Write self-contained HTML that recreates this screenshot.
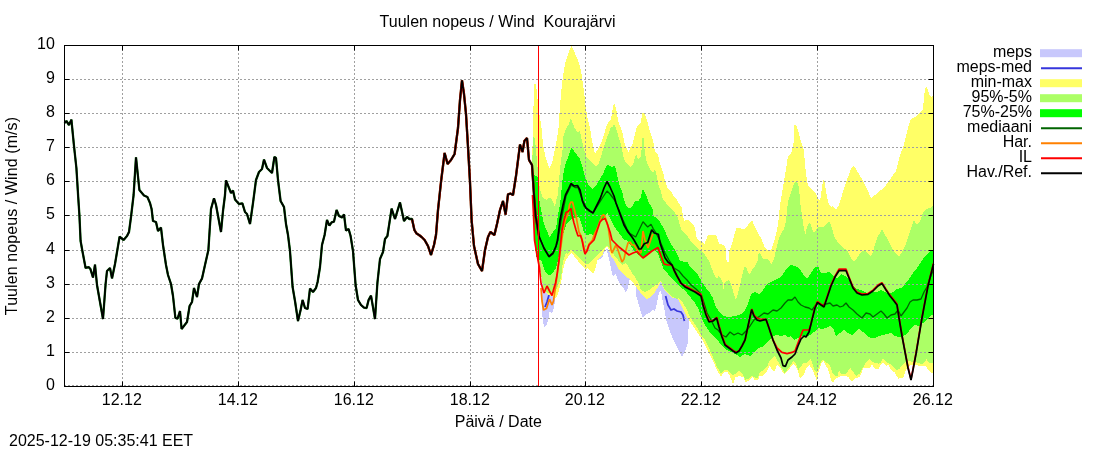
<!DOCTYPE html>
<html lang="fi"><head><meta charset="utf-8"><title>Tuulen nopeus / Wind Kourajärvi</title>
<style>html,body{margin:0;padding:0;background:#fff;width:1100px;height:450px;overflow:hidden}</style></head>
<body>
<svg width="1100" height="450" viewBox="0 0 1100 450" style="position:absolute;left:0;top:0;will-change:transform">
<rect x="0" y="0" width="1100" height="450" fill="#ffffff"/>
<defs><clipPath id="plotclip"><rect x="64" y="45" width="870" height="342"/></clipPath></defs>
<g clip-path="url(#plotclip)"><polygon points="541.5,283.0 542.0,311.0 543.0,323.0 544.5,327.0 546.0,326.0 548.0,321.0 549.5,312.0 552.0,313.0 553.5,309.0 555.0,301.0 556.0,296.0 556.0,283.0" fill="#c8c8fc" shape-rendering="crispEdges"/><polygon points="598.0,245.0 598.0,260.0 602.0,258.0 604.0,253.0 606.0,248.0 608.0,255.0 610.0,263.0 612.0,273.0 613.0,276.5 616.0,274.0 618.0,280.0 620.0,284.0 621.0,286.0 624.0,289.0 626.0,292.5 628.0,288.0 629.0,282.0 630.0,279.0 633.0,280.0 636.0,284.0 636.5,297.0 640.0,309.0 643.0,318.0 646.0,314.0 649.0,313.0 652.0,310.0 655.0,311.0 657.0,303.0 659.0,292.0 661.0,290.0 662.0,297.0 664.0,307.0 666.0,319.0 669.0,329.0 673.0,339.0 677.0,347.0 680.0,353.0 682.0,357.0 684.0,353.0 686.0,349.0 688.0,343.0 688.6,327.0 689.0,317.0 689.0,300.0 660.0,270.0 630.0,260.0" fill="#c8c8fc" shape-rendering="crispEdges"/><polyline points="549.0,295.0 547.0,302.0 545.0,307.0" fill="none" stroke="#3636dc" stroke-width="1.8"/><polyline points="665.6,296.0 668.0,305.0 671.0,310.0 674.0,309.0 677.0,311.0 681.0,312.0 683.0,315.0 684.4,321.0" fill="none" stroke="#3636dc" stroke-width="1.8"/><polygon points="532.0,165.0 533.2,120.0 534.0,84.0 535.9,84.0 536.5,88.7 537.3,97.0 539.3,113.7 540.7,121.7 541.6,128.3 543.0,145.0 546.0,159.0 549.5,168.5 552.0,163.0 555.0,149.0 557.0,139.0 558.6,127.0 560.0,106.0 561.4,90.0 563.0,76.0 565.0,64.0 568.0,54.0 571.4,45.5 574.0,51.0 577.4,59.0 580.0,66.0 582.0,77.0 584.0,92.0 585.6,106.0 587.4,118.0 590.0,128.0 592.0,141.0 595.0,154.0 598.0,149.0 602.0,141.0 605.0,131.0 606.6,126.0 607.4,124.0 611.0,119.0 613.0,107.0 614.0,103.0 616.0,108.0 617.4,116.0 619.0,124.0 621.0,128.0 623.0,135.0 625.0,145.0 627.0,149.0 628.5,152.0 630.0,149.0 631.0,146.0 632.0,146.0 634.7,135.0 636.6,127.4 641.0,122.4 642.2,112.5 644.0,112.5 646.5,118.7 649.6,130.0 653.4,142.3 654.6,149.8 656.0,153.0 658.0,155.0 660.0,164.0 663.0,172.0 665.0,181.0 668.0,189.0 671.0,191.0 674.0,197.0 677.0,200.0 680.0,205.0 682.0,208.0 683.0,217.0 684.5,220.5 688.0,220.0 691.0,222.5 694.0,225.0 695.5,231.0 696.5,237.0 699.0,241.0 702.0,242.0 704.5,244.0 706.0,240.0 708.0,234.5 712.0,234.5 716.0,235.0 718.0,240.0 719.0,244.0 722.0,244.5 724.0,245.0 725.5,248.0 726.0,258.0 727.0,262.0 729.0,262.0 729.5,250.0 731.0,247.0 733.0,240.0 735.0,232.0 736.6,228.0 745.0,229.0 748.0,225.0 752.0,220.0 755.0,227.0 758.0,233.0 761.0,238.0 765.0,248.0 769.0,252.0 772.0,248.0 775.0,238.0 776.6,232.0 778.0,225.0 780.0,205.0 782.0,193.0 784.0,181.0 786.0,169.0 788.0,156.0 791.0,154.0 793.0,146.0 794.0,140.0 794.4,125.0 796.0,124.4 798.0,130.0 800.0,138.0 802.0,145.0 804.0,150.0 805.0,165.0 807.0,181.0 809.0,187.0 813.0,191.0 816.0,194.0 818.0,198.0 820.0,201.0 821.0,195.0 823.0,181.0 824.0,179.0 825.4,187.0 827.0,197.0 829.0,205.0 831.0,207.0 833.0,206.0 836.0,210.0 839.0,205.0 842.0,195.0 845.0,185.0 848.0,177.0 851.0,169.0 853.4,166.0 856.0,169.0 859.0,174.0 863.0,181.0 867.0,189.0 871.0,198.0 875.0,195.0 881.0,190.0 886.0,185.0 889.0,181.0 893.0,175.0 896.0,171.0 898.0,163.0 900.0,155.0 903.0,148.0 905.0,140.0 907.0,132.0 909.0,124.0 911.0,119.0 915.0,117.0 919.0,113.0 923.0,109.0 924.0,98.0 925.0,88.0 927.0,87.0 929.0,94.0 931.0,97.0 934.0,95.0 934.0,373.0 930.8,372.4 928.3,370.0 925.8,365.5 923.3,366.0 919.6,366.0 917.0,365.0 911.0,365.0 908.0,366.0 905.9,370.0 903.4,377.4 898.4,378.6 894.6,372.4 891.0,370.0 888.4,364.3 886.0,366.0 882.8,362.4 881.0,364.3 878.5,368.6 874.7,368.6 872.2,364.3 869.7,368.0 863.5,368.0 859.8,376.7 854.8,378.6 851.7,381.7 848.6,377.4 846.0,376.0 841.0,376.0 836.0,378.6 833.0,382.3 831.0,380.0 828.6,371.0 827.5,368.0 827.4,368.0 826.2,366.0 823.7,361.2 821.2,363.7 818.7,371.0 816.8,381.0 815.0,376.0 812.5,370.0 809.3,365.0 806.2,368.6 803.0,376.0 800.0,378.6 798.3,372.4 795.9,366.0 793.4,364.3 790.9,366.8 788.4,370.0 784.6,374.0 782.8,372.4 779.7,366.8 777.2,364.3 774.7,371.0 772.2,370.0 769.7,366.0 767.2,371.0 763.5,375.5 759.7,376.0 757.9,380.5 754.8,380.0 752.3,376.7 749.8,380.0 745.4,382.3 743.5,377.4 739.8,376.0 735.5,377.4 733.0,384.0 729.9,376.0 727.4,371.8 723.6,372.4 721.0,376.7 716.8,370.0 713.7,362.4 710.0,355.0 706.0,347.5 702.5,340.0 699.0,335.0 695.0,329.0 691.0,323.0 687.0,317.0 683.0,309.0 679.0,301.0 675.0,297.0 673.0,298.0 669.0,295.0 665.0,291.0 663.0,287.0 661.0,281.0 658.0,287.0 655.0,292.0 652.0,296.0 649.0,298.0 646.0,299.0 643.0,296.0 640.0,292.0 637.0,288.0 634.0,284.0 631.0,281.0 628.0,278.0 624.0,275.0 621.0,272.0 618.0,268.0 616.0,264.0 614.0,260.0 611.0,256.0 609.0,250.0 607.0,246.0 605.0,249.0 602.0,256.0 598.0,259.0 597.0,262.0 595.0,270.0 593.0,274.0 590.0,271.0 588.0,268.0 585.0,269.0 582.0,266.0 578.0,261.0 574.0,256.0 571.0,253.0 568.0,257.0 565.0,262.0 563.0,270.0 561.5,280.0 560.0,286.0 559.0,290.0 557.0,297.0 555.0,298.0 552.0,296.0 548.0,295.0 543.5,290.0 542.0,280.0 539.5,267.0 537.0,254.0 534.0,235.0 533.0,200.0 532.0,165.0" fill="#ffff66" shape-rendering="crispEdges"/><polygon points="532.0,165.0 533.4,137.0 535.0,139.0 537.0,161.0 538.6,181.0 541.0,193.0 543.0,198.0 546.5,199.5 548.0,198.0 551.0,198.0 554.0,204.0 555.0,208.0 556.0,200.0 557.0,198.0 558.0,195.0 559.0,180.0 560.0,170.0 561.0,160.0 562.5,150.0 563.0,137.0 566.0,129.0 568.0,125.0 569.0,124.0 571.0,118.0 573.0,124.0 574.6,128.0 577.4,132.0 580.0,131.0 582.0,141.0 585.0,153.0 587.0,158.0 592.0,163.0 596.0,166.0 599.0,163.0 602.0,153.0 605.0,143.0 608.0,135.0 611.0,127.0 612.0,128.0 614.0,124.0 616.0,128.0 618.0,135.0 621.0,145.0 624.0,159.0 627.0,164.0 630.0,167.0 633.0,165.0 636.0,154.0 638.0,159.0 640.5,157.0 641.5,150.0 642.0,138.0 643.5,138.0 644.0,146.0 645.5,156.0 647.0,163.0 650.0,169.0 653.0,173.0 655.0,169.0 657.0,177.0 659.0,187.0 661.0,191.0 662.0,196.0 663.0,200.0 666.0,203.0 670.0,208.0 674.0,211.0 676.0,215.0 678.0,218.0 680.0,226.0 682.0,231.0 685.0,233.0 687.5,236.0 690.0,240.0 693.0,244.0 697.0,248.0 701.0,251.0 705.0,255.0 709.0,261.0 712.0,269.0 715.0,276.0 717.0,279.0 718.5,276.0 721.0,279.0 723.0,283.0 723.5,289.0 724.0,283.0 726.0,281.0 729.0,280.0 731.0,284.0 733.0,291.0 735.0,298.0 736.0,300.0 738.0,293.0 740.0,285.0 742.0,276.0 743.5,270.0 745.0,266.0 746.5,268.0 748.0,273.0 750.0,274.0 752.0,270.0 755.0,266.0 757.5,261.0 758.0,255.0 759.5,253.0 761.0,255.0 763.0,259.0 766.0,259.0 769.0,260.0 771.5,264.5 773.5,260.0 775.0,255.0 776.0,250.0 778.0,242.0 780.0,236.0 782.0,232.0 784.0,229.0 786.0,221.0 788.0,201.0 791.0,193.0 794.0,183.0 797.0,181.0 799.0,187.0 800.0,201.0 802.0,215.0 804.0,229.0 805.5,234.0 806.0,230.0 808.0,225.0 810.0,222.0 812.0,229.0 814.0,233.0 818.0,227.0 823.0,227.4 826.0,225.0 829.0,221.0 831.0,225.0 833.0,232.0 835.0,238.0 839.0,244.0 843.0,248.0 847.0,250.0 851.0,258.0 854.0,262.0 857.0,258.0 861.0,252.0 865.0,250.0 868.0,254.0 871.0,256.0 873.0,252.0 875.0,244.0 878.0,236.0 880.0,233.0 882.0,229.0 884.0,233.0 887.0,238.0 890.0,244.0 893.0,250.0 896.0,254.0 899.0,257.0 902.0,252.0 905.0,246.0 908.0,238.0 910.0,232.0 912.0,225.0 914.0,220.0 917.0,225.0 920.0,221.0 923.0,213.0 926.0,209.0 930.0,208.0 934.0,205.0 934.0,363.0 929.5,363.0 926.4,359.3 923.3,363.7 920.8,363.7 917.0,362.4 913.0,362.0 909.0,361.0 905.9,361.2 903.4,363.7 899.6,368.6 897.0,370.5 893.4,367.4 889.7,363.7 886.0,361.8 882.8,358.7 881.0,362.4 878.5,363.7 873.5,362.4 869.7,359.3 866.0,362.4 862.3,368.6 859.8,373.6 856.0,376.0 853.5,372.4 850.4,368.0 846.0,373.6 841.0,373.6 839.2,370.0 837.4,376.0 834.9,376.0 832.4,372.4 829.9,365.0 826.2,362.4 823.0,359.3 821.2,361.2 818.7,367.4 816.8,372.4 815.0,371.0 812.5,363.7 810.6,359.3 807.5,362.4 803.7,363.0 800.0,367.4 798.3,370.0 795.9,363.7 793.4,360.5 790.9,365.0 787.8,368.6 784.6,373.6 782.8,370.0 779.7,364.3 777.2,360.0 774.7,356.0 772.2,358.7 769.7,360.5 767.2,366.8 763.5,370.0 759.7,372.4 757.9,378.0 754.8,377.4 751.6,376.0 748.5,378.6 745.4,379.8 742.3,373.6 739.2,371.0 735.5,373.6 733.0,375.5 729.9,372.4 727.4,370.0 724.2,370.5 721.0,373.6 718.0,368.6 715.0,362.4 712.4,356.0 708.7,347.5 705.0,340.0 702.0,337.0 698.0,329.0 694.0,323.0 690.0,317.0 687.0,310.0 683.0,303.0 679.0,298.0 677.0,299.0 673.0,297.0 669.0,294.0 665.0,290.0 663.0,286.0 661.0,280.0 657.0,284.0 653.0,287.0 649.0,290.0 645.0,292.0 641.0,290.0 638.0,282.0 635.0,277.0 632.0,273.0 628.0,266.0 626.0,263.0 622.0,265.0 618.0,260.0 614.0,255.0 611.0,250.0 609.0,248.0 607.0,246.0 605.5,247.0 603.0,249.0 600.0,252.0 596.0,256.0 592.0,260.0 589.0,264.0 585.5,264.0 582.0,261.0 578.0,257.0 574.0,252.0 571.0,249.5 568.0,254.0 566.0,253.0 564.0,258.0 562.5,265.0 561.0,278.0 559.0,283.0 557.0,288.0 555.0,292.0 552.0,294.0 548.0,293.0 543.5,289.0 542.0,280.0 539.5,267.0 537.0,254.0 534.0,235.0 533.0,200.0 532.0,165.0" fill="#acff66" shape-rendering="crispEdges"/><polygon points="532.0,165.0 534.0,175.0 538.0,177.0 539.0,195.0 539.5,201.0 543.0,220.0 546.0,229.0 549.5,237.0 553.0,232.0 556.0,228.0 558.0,215.0 560.0,205.0 561.0,195.0 562.5,180.0 564.0,170.0 566.0,162.0 568.0,158.0 570.0,152.0 571.4,147.4 574.0,151.0 577.0,155.0 580.0,159.0 582.0,165.0 584.0,173.0 586.0,179.0 588.0,184.0 590.0,187.0 592.0,189.0 594.0,187.0 597.0,184.0 600.0,179.0 603.0,174.0 605.0,169.0 607.0,165.0 610.0,166.0 612.0,167.0 614.0,165.0 616.0,169.0 618.0,179.0 620.0,187.0 622.0,191.0 624.0,200.0 627.0,207.0 630.0,208.5 633.0,205.0 635.0,201.0 638.7,201.0 640.6,197.4 643.0,188.7 645.6,193.7 648.7,202.4 652.4,208.6 653.7,216.0 658.6,220.0 662.4,226.0 666.0,233.5 668.0,238.0 671.0,244.0 675.0,250.0 678.0,256.0 680.0,261.0 688.0,262.5 690.0,267.0 694.0,271.0 698.0,275.0 701.5,281.0 706.0,288.0 710.0,293.0 713.0,298.0 715.0,305.0 719.0,312.0 723.0,316.0 729.0,317.0 735.0,316.0 741.0,314.0 745.0,310.0 748.0,304.0 751.0,294.0 755.0,292.0 759.0,294.0 763.0,290.0 767.0,284.0 771.0,282.0 775.0,280.0 779.0,278.0 783.0,274.0 787.0,268.0 791.0,265.0 795.0,266.0 799.0,268.0 803.0,274.0 807.0,279.0 811.0,273.0 815.0,267.0 818.0,266.0 821.0,273.0 825.0,273.0 829.0,272.0 833.0,276.0 837.0,278.0 841.0,274.0 845.0,276.0 849.0,280.0 853.0,286.0 857.0,289.0 861.0,290.0 865.0,292.0 869.0,294.0 873.0,292.0 877.0,292.0 881.0,290.0 885.0,292.0 889.0,294.0 893.0,292.0 897.0,289.0 901.0,288.0 905.0,284.0 909.0,279.0 913.0,273.0 917.0,268.0 921.0,262.0 925.0,256.0 929.0,252.0 934.0,250.0 934.0,314.0 930.0,316.0 927.0,320.0 923.0,323.0 919.0,326.0 915.0,325.0 911.0,328.0 907.0,334.0 903.0,336.0 899.0,337.0 895.0,336.0 891.0,333.0 887.0,334.0 883.0,335.0 879.0,336.0 875.0,338.0 871.0,338.0 867.0,336.0 863.0,332.0 859.0,329.0 856.0,331.0 852.0,335.0 848.0,333.0 844.0,330.0 840.0,333.0 836.0,336.0 833.0,328.0 830.0,326.0 826.0,328.0 822.0,329.0 818.0,328.0 814.0,332.0 810.0,335.0 806.0,337.0 802.0,336.0 798.0,338.0 794.0,340.0 791.0,336.0 788.0,337.0 785.0,335.0 781.0,336.0 777.0,335.0 773.0,336.0 769.0,340.0 766.0,344.0 762.0,347.0 758.0,348.0 755.0,352.0 750.0,356.0 745.0,354.0 740.0,357.0 737.0,355.0 733.0,353.0 729.0,351.0 725.0,349.0 722.0,346.0 719.0,342.0 716.0,339.0 713.0,336.0 709.0,331.0 705.0,325.0 702.0,319.0 699.0,310.0 695.0,303.0 691.0,298.0 687.0,293.0 683.0,289.0 679.0,286.0 675.0,282.0 672.0,279.0 668.0,274.0 664.0,270.0 661.0,262.0 658.0,254.0 655.0,250.0 651.0,252.0 647.0,254.0 643.0,258.0 639.0,255.0 635.0,252.0 631.0,246.0 627.0,240.0 624.0,240.0 622.0,237.0 619.0,233.0 616.0,229.0 613.0,224.0 610.0,218.0 607.5,212.5 605.0,216.0 602.0,219.0 599.0,225.0 596.0,232.0 593.0,235.0 590.0,234.0 587.0,235.0 584.0,233.0 582.0,225.0 579.0,217.0 575.0,218.0 571.0,219.0 566.0,225.0 563.0,235.0 562.0,238.0 561.0,240.0 559.5,250.0 558.0,260.0 556.0,268.0 553.0,273.0 549.0,275.5 545.0,271.0 541.0,260.0 539.0,260.0 536.0,256.0 534.0,235.0 533.0,200.0 532.0,165.0" fill="#00ff00" shape-rendering="crispEdges"/></g>
<g stroke="#a0a0a0" stroke-width="1" stroke-dasharray="2,2" fill="none"><line x1="64" y1="385.50" x2="934" y2="385.50"/><line x1="64" y1="352.50" x2="934" y2="352.50"/><line x1="64" y1="318.50" x2="934" y2="318.50"/><line x1="64" y1="284.50" x2="934" y2="284.50"/><line x1="64" y1="250.50" x2="934" y2="250.50"/><line x1="64" y1="215.50" x2="934" y2="215.50"/><line x1="64" y1="181.50" x2="934" y2="181.50"/><line x1="64" y1="147.50" x2="934" y2="147.50"/><line x1="64" y1="113.50" x2="934" y2="113.50"/><line x1="64" y1="79.50" x2="934" y2="79.50"/><line x1="64" y1="45.50" x2="934" y2="45.50"/><line x1="122.50" y1="45" x2="122.50" y2="387"/><line x1="238.50" y1="45" x2="238.50" y2="387"/><line x1="354.50" y1="45" x2="354.50" y2="387"/><line x1="470.50" y1="45" x2="470.50" y2="387"/><line x1="585.50" y1="45" x2="585.50" y2="387"/><line x1="701.50" y1="45" x2="701.50" y2="387"/><line x1="817.50" y1="45" x2="817.50" y2="387"/><line x1="933.50" y1="45" x2="933.50" y2="387"/></g>
<g stroke="#000" stroke-width="1" fill="none"><line x1="64.5" y1="386.50" x2="69.5" y2="386.50"/><line x1="933.5" y1="386.50" x2="928.5" y2="386.50"/><line x1="64.5" y1="352.50" x2="69.5" y2="352.50"/><line x1="933.5" y1="352.50" x2="928.5" y2="352.50"/><line x1="64.5" y1="318.50" x2="69.5" y2="318.50"/><line x1="933.5" y1="318.50" x2="928.5" y2="318.50"/><line x1="64.5" y1="284.50" x2="69.5" y2="284.50"/><line x1="933.5" y1="284.50" x2="928.5" y2="284.50"/><line x1="64.5" y1="250.50" x2="69.5" y2="250.50"/><line x1="933.5" y1="250.50" x2="928.5" y2="250.50"/><line x1="64.5" y1="215.50" x2="69.5" y2="215.50"/><line x1="933.5" y1="215.50" x2="928.5" y2="215.50"/><line x1="64.5" y1="181.50" x2="69.5" y2="181.50"/><line x1="933.5" y1="181.50" x2="928.5" y2="181.50"/><line x1="64.5" y1="147.50" x2="69.5" y2="147.50"/><line x1="933.5" y1="147.50" x2="928.5" y2="147.50"/><line x1="64.5" y1="113.50" x2="69.5" y2="113.50"/><line x1="933.5" y1="113.50" x2="928.5" y2="113.50"/><line x1="64.5" y1="79.50" x2="69.5" y2="79.50"/><line x1="933.5" y1="79.50" x2="928.5" y2="79.50"/><line x1="64.5" y1="45.50" x2="69.5" y2="45.50"/><line x1="933.5" y1="45.50" x2="928.5" y2="45.50"/><line x1="122.50" y1="386.5" x2="122.50" y2="381.5"/><line x1="122.50" y1="45.5" x2="122.50" y2="50.5"/><line x1="238.50" y1="386.5" x2="238.50" y2="381.5"/><line x1="238.50" y1="45.5" x2="238.50" y2="50.5"/><line x1="354.50" y1="386.5" x2="354.50" y2="381.5"/><line x1="354.50" y1="45.5" x2="354.50" y2="50.5"/><line x1="470.50" y1="386.5" x2="470.50" y2="381.5"/><line x1="470.50" y1="45.5" x2="470.50" y2="50.5"/><line x1="585.50" y1="386.5" x2="585.50" y2="381.5"/><line x1="585.50" y1="45.5" x2="585.50" y2="50.5"/><line x1="701.50" y1="386.5" x2="701.50" y2="381.5"/><line x1="701.50" y1="45.5" x2="701.50" y2="50.5"/><line x1="817.50" y1="386.5" x2="817.50" y2="381.5"/><line x1="817.50" y1="45.5" x2="817.50" y2="50.5"/><line x1="933.50" y1="386.5" x2="933.50" y2="381.5"/><line x1="933.50" y1="45.5" x2="933.50" y2="50.5"/></g>
<g clip-path="url(#plotclip)"><polyline points="540.0,238.0 544.0,249.0 549.0,257.0 553.0,254.0 556.0,247.0 558.0,240.0 561.0,221.0 566.0,196.0 571.4,185.0 575.0,187.5 578.0,187.5 581.0,196.0 584.0,206.0 589.0,211.0 593.0,213.0 598.0,205.0 603.0,197.0 607.0,191.0 610.0,194.0 613.0,198.0 615.0,201.0 619.0,210.0 623.0,220.0 627.0,229.0 630.0,233.5 635.7,237.0 643.0,221.7 647.7,227.0 651.0,224.3 653.0,228.3 656.0,233.0 660.0,241.0 665.0,253.0 669.0,260.0 674.0,268.0 679.0,271.0 683.0,276.0 687.0,280.0 691.0,285.0 696.0,289.0 701.0,294.0 704.0,303.0 707.0,313.0 711.0,320.0 715.0,328.0 718.0,330.0 722.0,335.0 726.0,337.0 730.0,332.0 734.0,335.0 738.0,333.0 742.0,335.0 746.0,331.0 750.0,326.0 754.0,320.0 757.0,318.0 760.0,316.0 764.0,313.0 768.0,314.0 773.0,310.0 777.0,311.0 781.0,308.0 785.0,303.0 788.0,300.0 792.0,300.0 795.0,297.0 798.0,302.0 801.0,305.0 805.0,307.0 809.0,308.0 812.0,310.0 815.0,306.0 819.0,303.0 822.0,305.0 826.0,304.0 830.0,303.0 833.0,306.0 837.0,305.0 840.0,307.0 843.0,306.0 846.0,303.0 849.0,307.0 853.0,310.0 857.0,314.0 862.0,318.0 866.0,313.0 870.0,314.0 873.0,317.0 877.0,314.0 881.0,311.0 884.0,314.0 887.0,318.0 891.0,315.0 895.0,314.0 898.0,310.0 901.0,316.0 904.0,312.0 907.0,308.0 910.0,302.0 913.0,300.0 917.0,300.0 921.0,299.0 924.0,292.0 927.0,287.0 930.0,278.0 933.5,270.0" fill="none" stroke="#006400" stroke-width="1.3" stroke-linejoin="bevel"/><polyline points="541.0,288.0 542.0,301.0 543.5,310.0 546.5,308.5 549.5,299.0 552.0,305.0 553.5,301.0 554.5,294.0 555.5,287.0 557.0,276.0 559.0,261.0 561.0,246.0 563.0,231.0 565.0,221.0 568.0,214.0 569.5,205.0 571.0,202.0 572.5,202.0 574.0,208.0 576.0,216.0 577.5,224.0 579.0,232.0 581.0,236.0 583.0,243.0 585.0,253.0 587.0,250.0 589.0,244.0 592.5,240.0 594.5,234.0 597.0,229.0 600.0,221.0 602.0,216.0 603.5,214.5 605.5,218.0 608.0,226.0 610.0,240.0 611.0,250.0 612.0,253.0 614.0,249.0 616.0,245.0 618.0,250.0 620.0,256.0 622.0,262.0 624.0,259.0 626.0,250.0 628.0,243.0 630.0,242.0 632.0,245.0 634.0,245.0 636.0,248.0 639.0,252.0 641.0,253.0 643.0,231.0 645.0,240.0 648.0,248.0 652.0,236.0 653.0,234.0" fill="none" stroke="#ff8000" stroke-width="1.7" stroke-linejoin="bevel"/><polyline points="532.5,195.0 533.5,215.0 534.5,240.0 537.0,255.0 539.5,268.0 541.0,283.0 544.0,293.0 547.0,286.0 549.5,291.0 552.0,295.5 554.0,288.0 555.5,283.0 557.0,275.0 559.0,260.0 560.5,245.0 562.0,230.0 564.0,220.0 566.0,212.5 568.0,211.5 571.0,208.5 572.0,215.0 574.0,223.0 576.0,230.0 578.0,236.0 580.5,235.5 582.0,240.0 584.0,250.0 585.0,254.0 587.0,251.0 589.0,245.0 592.0,242.0 594.0,240.0 597.0,231.0 600.0,222.0 602.5,219.5 605.0,218.5 607.0,223.0 610.0,232.0 612.0,240.0 615.0,243.0 619.0,247.0 624.0,251.0 629.0,255.0 633.0,253.0 637.0,251.5 640.0,255.0 643.0,258.0 647.0,255.0 652.0,251.0 658.0,247.6 661.0,256.0 664.0,264.0 668.0,265.0 672.0,265.0 674.0,270.0 677.0,276.0 681.0,283.5 701.0,294.5 703.3,304.4 706.3,314.4 709.3,321.4 713.3,320.4 716.9,317.4 719.3,326.4 722.3,336.4 725.3,344.4 729.3,347.4 733.3,350.4 736.3,352.4 739.3,350.4 742.3,345.4 745.3,339.4 748.3,325.4 751.9,309.0 754.0,315.0 757.0,318.0 760.0,319.0 766.0,319.4 769.0,328.0 773.0,340.0 777.0,348.0 782.0,352.4 787.0,353.6 792.0,352.4 795.0,351.0 798.0,343.0 803.0,330.0 809.0,330.0 811.0,324.0 812.0,319.1 815.0,307.1 817.4,301.5 821.0,304.1 824.0,306.1 827.0,297.1 831.0,285.1 835.0,276.1 839.0,269.1 846.0,269.1 849.0,277.1 853.0,287.1 857.0,292.1 862.0,294.1 868.0,293.5 873.0,290.1 878.0,285.1 882.0,282.7 886.0,289.1 890.0,295.1 894.0,300.1 897.0,304.1 899.0,317.1 902.0,335.1 905.0,351.1 908.0,367.1 911.0,379.1 913.0,369.1 916.0,353.1 919.0,335.1 922.0,317.1 925.0,301.1 928.0,285.1 931.0,273.1 933.5,263.1" fill="none" stroke="#ff0000" stroke-width="1.7" stroke-linejoin="bevel"/></g><polyline points="64.5,123.0 66.4,121.0 69.0,125.0 71.4,119.6 74.0,146.0 76.4,168.0 78.2,197.0 79.4,215.0 80.6,241.0 82.4,251.0 85.6,268.0 88.6,267.0 90.4,269.0 93.0,277.5 95.0,264.6 97.0,285.0 103.0,319.0 105.6,284.0 107.0,271.0 110.0,268.0 112.0,278.4 115.0,264.0 119.6,236.6 123.6,240.0 127.0,236.0 129.0,232.0 131.0,217.0 133.6,195.0 136.0,157.4 139.4,190.0 144.0,195.5 147.4,197.0 150.0,203.0 151.6,209.0 153.0,221.0 156.0,222.0 158.0,231.0 161.0,227.6 163.0,245.0 166.0,265.0 168.0,275.0 171.0,284.0 173.0,296.0 175.4,318.0 177.6,318.6 180.0,311.0 181.6,329.0 187.0,322.0 189.6,306.0 192.0,302.0 194.0,288.0 197.0,297.0 199.0,284.0 202.0,278.5 205.0,265.0 208.4,250.0 211.0,209.0 214.0,198.3 216.0,205.0 221.0,232.0 223.0,211.0 225.0,195.0 226.0,180.4 231.0,193.0 233.0,190.6 235.0,199.4 239.0,204.0 242.4,203.4 245.0,212.0 247.0,214.0 250.0,224.0 253.0,203.0 256.0,180.0 259.0,172.0 262.0,169.0 264.0,159.6 267.0,168.0 272.0,173.0 274.4,157.0 276.0,158.0 278.0,180.0 280.6,201.0 284.0,207.0 286.0,224.0 288.0,235.0 290.0,251.0 292.6,287.0 295.0,301.0 298.0,321.0 300.6,310.0 302.6,300.0 305.0,308.0 307.6,309.0 310.0,288.6 313.0,292.0 316.0,288.0 317.6,282.0 320.0,267.0 322.0,245.0 324.6,235.0 327.0,220.0 329.4,225.6 331.6,222.4 334.0,221.6 336.6,210.0 339.0,216.0 342.0,217.6 344.0,214.4 346.0,230.6 348.6,229.0 350.6,236.0 353.0,251.0 355.6,285.0 358.0,300.0 361.0,305.0 364.0,307.6 366.6,308.0 368.6,300.0 371.0,295.6 375.0,319.0 377.4,283.0 380.0,259.0 383.0,252.0 385.0,239.0 387.4,236.0 391.6,208.6 395.0,219.0 400.0,202.4 404.0,221.0 407.0,217.0 409.4,219.0 412.0,219.0 414.4,230.0 416.6,233.6 419.0,235.0 421.6,237.0 424.6,240.0 428.0,246.0 431.0,255.0 434.0,245.0 436.0,235.0 438.0,210.0 441.0,182.0 444.6,153.0 447.6,164.0 451.0,160.0 454.6,154.0 458.0,128.0 460.0,100.0 462.0,80.4 464.0,94.0 466.0,114.0 468.0,147.0 470.0,182.0 471.6,220.0 474.0,246.0 478.0,264.0 482.0,271.0 485.0,250.0 488.0,237.0 490.4,232.0 494.4,235.0 497.0,224.0 500.0,210.0 503.0,201.0 505.6,214.5 508.0,194.4 510.4,193.6 513.0,195.0 516.0,176.0 520.0,144.6 522.5,152.0 524.4,141.0 527.0,138.0 529.0,160.0 532.0,165.0 534.0,195.0 535.6,216.0 539.0,236.0" fill="none" stroke="#006400" stroke-width="2.3" stroke-linejoin="bevel"/><polyline points="412.0,219.0 414.4,230.0 416.6,233.6 419.0,235.0 421.6,237.0 424.6,240.0 428.0,246.0 431.0,255.0 434.0,245.0 436.0,235.0 438.0,210.0 441.0,182.0 444.6,153.0 447.6,164.0 451.0,160.0 454.6,154.0 458.0,128.0 460.0,100.0 462.0,80.4 464.0,94.0 466.0,114.0 468.0,147.0 470.0,182.0 471.6,220.0 474.0,246.0 478.0,264.0 482.0,271.0 485.0,250.0 488.0,237.0 490.4,232.0 494.4,235.0 497.0,224.0 500.0,210.0 503.0,201.0 505.6,214.5 508.0,194.4 510.4,193.6 513.0,195.0 516.0,176.0 520.0,144.6 522.5,152.0 524.4,141.0 527.0,138.0 529.0,160.0 532.0,165.0 534.0,195.0 535.6,216.0 539.0,236.0" fill="none" stroke="#e80000" stroke-width="2.3" stroke-linejoin="bevel"/><polyline points="64.5,123.0 66.4,121.0 69.0,125.0 71.4,119.6 74.0,146.0 76.4,168.0 78.2,197.0 79.4,215.0 80.6,241.0 82.4,251.0 85.6,268.0 88.6,267.0 90.4,269.0 93.0,277.5 95.0,264.6 97.0,285.0 103.0,319.0 105.6,284.0 107.0,271.0 110.0,268.0 112.0,278.4 115.0,264.0 119.6,236.6 123.6,240.0 127.0,236.0 129.0,232.0 131.0,217.0 133.6,195.0 136.0,157.4 139.4,190.0 144.0,195.5 147.4,197.0 150.0,203.0 151.6,209.0 153.0,221.0 156.0,222.0 158.0,231.0 161.0,227.6 163.0,245.0 166.0,265.0 168.0,275.0 171.0,284.0 173.0,296.0 175.4,318.0 177.6,318.6 180.0,311.0 181.6,329.0 187.0,322.0 189.6,306.0 192.0,302.0 194.0,288.0 197.0,297.0 199.0,284.0 202.0,278.5 205.0,265.0 208.4,250.0 211.0,209.0 214.0,198.3 216.0,205.0 221.0,232.0 223.0,211.0 225.0,195.0 226.0,180.4 231.0,193.0 233.0,190.6 235.0,199.4 239.0,204.0 242.4,203.4 245.0,212.0 247.0,214.0 250.0,224.0 253.0,203.0 256.0,180.0 259.0,172.0 262.0,169.0 264.0,159.6 267.0,168.0 272.0,173.0 274.4,157.0 276.0,158.0 278.0,180.0 280.6,201.0 284.0,207.0 286.0,224.0 288.0,235.0 290.0,251.0 292.6,287.0 295.0,301.0 298.0,321.0 300.6,310.0 302.6,300.0 305.0,308.0 307.6,309.0 310.0,288.6 313.0,292.0 316.0,288.0 317.6,282.0 320.0,267.0 322.0,245.0 324.6,235.0 327.0,220.0 329.4,225.6 331.6,222.4 334.0,221.6 336.6,210.0 339.0,216.0 342.0,217.6 344.0,214.4 346.0,230.6 348.6,229.0 350.6,236.0 353.0,251.0 355.6,285.0 358.0,300.0 361.0,305.0 364.0,307.6 366.6,308.0 368.6,300.0 371.0,295.6 375.0,319.0 377.4,283.0 380.0,259.0 383.0,252.0 385.0,239.0 387.4,236.0 391.6,208.6 395.0,219.0 400.0,202.4 404.0,221.0 407.0,217.0 409.4,219.0 412.0,219.0 414.4,230.0 416.6,233.6 419.0,235.0 421.6,237.0 424.6,240.0 428.0,246.0 431.0,255.0 434.0,245.0 436.0,235.0 438.0,210.0 441.0,182.0 444.6,153.0 447.6,164.0 451.0,160.0 454.6,154.0 458.0,128.0 460.0,100.0 462.0,80.4 464.0,94.0 466.0,114.0 468.0,147.0 470.0,182.0 471.6,220.0 474.0,246.0 478.0,264.0 482.0,271.0 485.0,250.0 488.0,237.0 490.4,232.0 494.4,235.0 497.0,224.0 500.0,210.0 503.0,201.0 505.6,214.5 508.0,194.4 510.4,193.6 513.0,195.0 516.0,176.0 520.0,144.6 522.5,152.0 524.4,141.0 527.0,138.0 529.0,160.0 532.0,165.0 534.0,195.0 535.6,216.0 539.0,236.0 540.5,240.0 544.0,248.0 549.0,256.5 553.0,253.0 556.0,246.0 557.5,240.0 560.0,220.0 563.0,205.0 565.5,195.0 568.0,190.0 571.0,183.5 574.0,186.0 577.5,185.5 580.0,190.0 582.5,201.0 586.0,208.0 590.0,211.0 593.0,213.0 596.0,207.0 600.0,199.0 601.5,195.0 604.0,188.0 607.0,181.5 610.0,187.0 614.0,196.0 616.0,203.0 620.0,214.0 624.0,225.0 628.0,232.0 632.0,237.0 634.0,240.0 638.0,247.0 639.0,249.0 641.0,249.0 644.3,243.7 647.7,242.5 651.7,229.7 654.3,233.0 658.3,234.3 660.3,243.7 665.0,257.7 668.0,262.0 672.0,265.0 674.0,270.0 677.0,276.0 681.0,283.0 685.0,287.0 689.0,289.0 695.0,292.0 701.0,296.0 703.0,305.0 706.0,315.0 709.0,322.0 713.0,321.0 716.6,318.0 719.0,327.0 722.0,337.0 725.0,345.0 729.0,348.0 733.0,351.0 736.0,353.0 739.0,351.0 742.0,346.0 745.0,340.0 748.0,326.0 751.6,309.6 754.0,316.0 757.0,320.0 760.0,321.0 766.0,319.4 769.0,328.0 773.0,340.0 777.0,350.0 781.0,358.0 783.0,365.6 785.4,366.4 788.0,360.0 792.0,357.0 795.0,354.0 798.0,346.0 801.0,339.0 804.0,336.0 806.0,337.0 809.0,332.0 812.0,320.0 815.0,308.0 817.4,302.4 821.0,305.0 824.0,307.0 827.0,298.0 831.0,286.0 835.0,277.0 839.0,270.7 846.0,270.7 849.0,278.0 853.0,288.0 857.0,293.0 862.0,295.0 868.0,294.4 873.0,291.0 878.0,286.0 882.0,283.6 886.0,290.0 890.0,296.0 894.0,301.0 897.0,305.0 899.0,318.0 902.0,336.0 905.0,352.0 908.0,368.0 911.0,380.0 913.0,370.0 916.0,354.0 919.0,336.0 922.0,318.0 925.0,302.0 928.0,286.0 931.0,274.0 933.5,264.0" fill="none" stroke="#000" stroke-width="1.7" stroke-linejoin="bevel"/><line x1="538.5" y1="45" x2="538.5" y2="387" stroke="#ff0000" stroke-width="1"/>
<rect x="64.5" y="45.5" width="869.0" height="341.0" fill="none" stroke="#000" stroke-width="1"/>
<rect x="1040" y="49.20" width="42" height="8" fill="#c8c8fc"/>
<line x1="1041" y1="68.20" x2="1082" y2="68.20" stroke="#3636dc" stroke-width="2"/>
<rect x="1040" y="79.20" width="42" height="8" fill="#ffff66"/>
<rect x="1040" y="94.20" width="42" height="8" fill="#acff66"/>
<rect x="1040" y="109.20" width="42" height="8" fill="#00ff00"/>
<line x1="1041" y1="128.20" x2="1082" y2="128.20" stroke="#006400" stroke-width="2"/>
<line x1="1041" y1="143.20" x2="1082" y2="143.20" stroke="#ff8000" stroke-width="2"/>
<line x1="1041" y1="158.20" x2="1082" y2="158.20" stroke="#ff0000" stroke-width="2"/>
<line x1="1041" y1="173.20" x2="1082" y2="173.20" stroke="#000000" stroke-width="2"/>
<g font-family="'Liberation Sans', Arial, sans-serif" font-size="16px" fill="#000"><text x="54.8" y="390.00" text-anchor="end">0</text><text x="54.8" y="356.00" text-anchor="end">1</text><text x="54.8" y="322.00" text-anchor="end">2</text><text x="54.8" y="288.00" text-anchor="end">3</text><text x="54.8" y="254.00" text-anchor="end">4</text><text x="54.8" y="219.00" text-anchor="end">5</text><text x="54.8" y="185.00" text-anchor="end">6</text><text x="54.8" y="151.00" text-anchor="end">7</text><text x="54.8" y="117.00" text-anchor="end">8</text><text x="54.8" y="83.00" text-anchor="end">9</text><text x="54.8" y="49.00" text-anchor="end">10</text><text x="121.80" y="404.5" text-anchor="middle">12.12</text><text x="237.80" y="404.5" text-anchor="middle">14.12</text><text x="353.80" y="404.5" text-anchor="middle">16.12</text><text x="469.80" y="404.5" text-anchor="middle">18.12</text><text x="584.80" y="404.5" text-anchor="middle">20.12</text><text x="700.80" y="404.5" text-anchor="middle">22.12</text><text x="816.80" y="404.5" text-anchor="middle">24.12</text><text x="932.80" y="404.5" text-anchor="middle">26.12</text><text x="497.6" y="27.2" text-anchor="middle" xml:space="preserve" style="white-space:pre">Tuulen nopeus / Wind  Kourajärvi</text><text x="498.3" y="426.5" text-anchor="middle">Päivä / Date</text><text x="9" y="446">2025-12-19 05:35:41 EET</text><text transform="translate(17,216) rotate(-90)" text-anchor="middle" letter-spacing="0.09">Tuulen nopeus / Wind (m/s)</text><text x="1032" y="57.00" text-anchor="end">meps</text><text x="1032" y="72.00" text-anchor="end">meps-med</text><text x="1032" y="87.00" text-anchor="end">min-max</text><text x="1032" y="102.00" text-anchor="end">95%-5%</text><text x="1032" y="117.00" text-anchor="end">75%-25%</text><text x="1032" y="132.00" text-anchor="end">mediaani</text><text x="1032" y="147.00" text-anchor="end">Har.</text><text x="1032" y="162.00" text-anchor="end">IL</text><text x="1032" y="177.00" text-anchor="end">Hav./Ref.</text></g>
</svg>
</body></html>
